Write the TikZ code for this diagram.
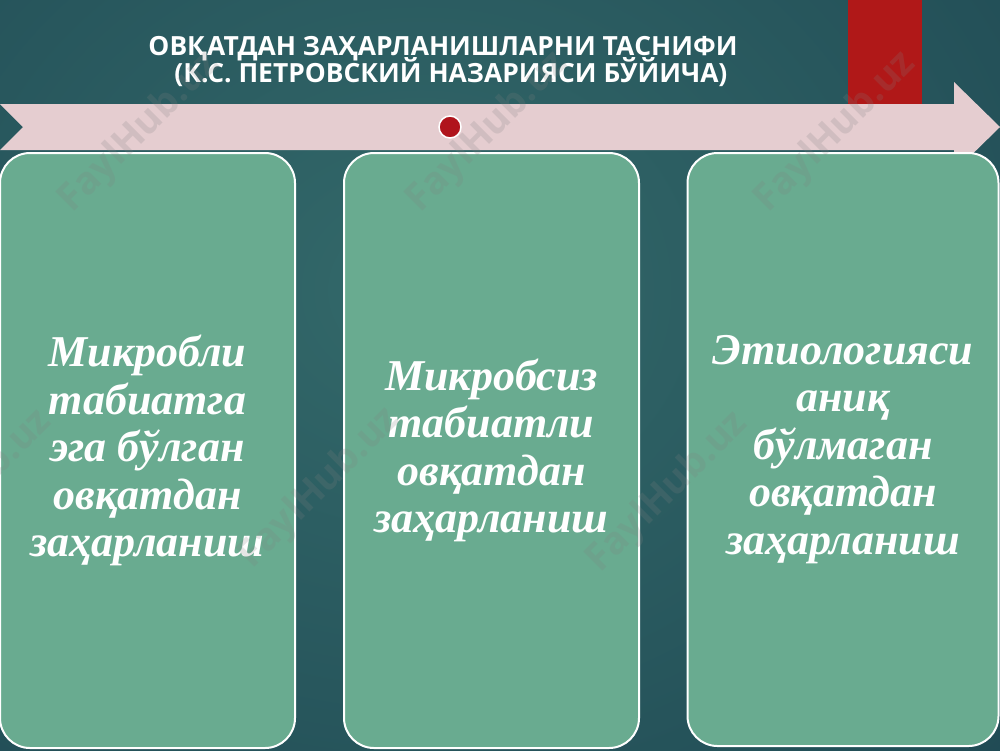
\documentclass[tikz,border=0pt]{standalone}
\usepackage{fontspec}
\setmainfont{Liberation Serif}
\newfontfamily\titlefont{Open Sans}
\definecolor{bgin}{HTML}{33696A}
\definecolor{bgout}{HTML}{123444}
\definecolor{boxgreen}{HTML}{69AB90}
\definecolor{bandpink}{HTML}{E5CDD0}
\definecolor{redbar}{HTML}{B01818}
\definecolor{dotred}{HTML}{B0141C}
\pgfdeclareradialshading{bgshade}{\pgfpoint{0bp}{0bp}}{color(0bp)=(bgin); color(50bp)=(bgout); color(80bp)=(bgout)}
\begin{document}
\begin{tikzpicture}[x=1pt,y=-1pt,
  boxstyle/.style={draw=white, line width=2pt, fill=boxgreen, rounded corners=30pt,
    inner sep=0pt, minimum width=295pt, minimum height=595pt, text=white, align=center,
    font=\fontsize{44}{47.5}\selectfont\bfseries\itshape},
  titlestyle/.style={text=white, inner sep=0pt, anchor=base,
    font=\titlefont\bfseries\fontsize{26.4}{30}\selectfont},
  wmark/.style={text=gray, opacity=0.2, rotate=45, inner sep=0pt,
    font=\titlefont\bfseries\fontsize{38}{38}\selectfont}]
\useasboundingbox (0,0) rectangle (1000,750);
\begin{scope}
  \clip (0,0) rectangle (1000,750);
  \shade[shading=bgshade] (-280,-310) rectangle (1120,890);
\end{scope}
% red bar
\fill[redbar] (848,0) rectangle (922,104);
% arrow band
\fill[bandpink] (0,104) -- (954,104) -- (954,82) -- (1000,127) -- (954,172)
  -- (954,150) -- (0,150) -- (23,127) -- cycle;
\node[circle, fill=dotred, draw=white, line width=1.5pt, minimum size=22pt, inner sep=0pt] (dot) at (450,127) {};
% title
\node[titlestyle] (t1) at (443,55) {ОВҚАТДАН ЗАҲАРЛАНИШЛАРНИ ТАСНИФИ};
\node[titlestyle] (t2) at (451,82) {(К.С. ПЕТРОВСКИЙ НАЗАРИЯСИ БЎЙИЧА)};
% boxes
\node[boxstyle] (b1) at (147.5,450.5) {Микробли\\табиатга\\эга бўлган\\овқатдан\\заҳарланиш};
\node[boxstyle] (b2) at (491.5,450.5) {Микробсиз\\табиатли\\овқатдан\\заҳарланиш};
\node[boxstyle, minimum width=311pt, minimum height=593pt] (b3) at (843,449.5) {Этиологияси\\аниқ\\бўлмаган\\овқатдан\\заҳарланиш};
% watermarks
\node[wmark] (w1) at (140,132) {FaylHub.uz};
\node[wmark] (w2) at (488,132) {FaylHub.uz};
\node[wmark] (w3) at (836,132) {FaylHub.uz};
\node[wmark] (w4) at (-28,490) {FaylHub.uz};
\node[wmark] (w5) at (320,488) {FaylHub.uz};
\node[wmark] (w6) at (668,492) {FaylHub.uz};
\end{tikzpicture}
\end{document}
